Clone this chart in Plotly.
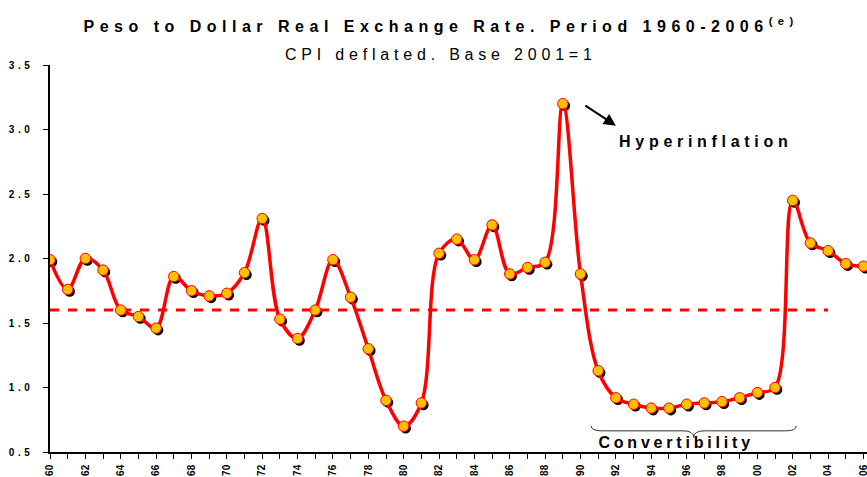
import plotly.graph_objects as go

# ---- data ----
years = list(range(1960, 2007))
rer = [1.99, 1.76, 2.00, 1.91, 1.60, 1.55, 1.46, 1.86, 1.75, 1.71,
       1.73, 1.89, 2.31, 1.53, 1.38, 1.60, 1.99, 1.70, 1.30, 0.90,
       0.70, 0.88, 2.04, 2.15, 1.99, 2.26, 1.88, 1.93, 1.97, 3.20,
       1.88, 1.13, 0.92, 0.87, 0.84, 0.84, 0.87, 0.88, 0.89, 0.92,
       0.96, 1.00, 2.45, 2.12, 2.06, 1.96, 1.94]
avg_years = [1960, 2004]
avg_value = [1.60, 1.60]
tick_years = list(range(1960, 2007))
tick_text = [f"{y % 100:02d}" if y % 2 == 0 else "" for y in tick_years]
y_ticks = [0.5, 1.0, 1.5, 2.0, 2.5, 3.0, 3.5]

title_text = "Peso to Dollar Real Exchange Rate. Period 1960-2006<sup>(e)</sup>"
subtitle_text = "CPI deflated. Base 2001=1"
hyper_label = "Hyperinflation"
conv_label = "Convertibility"
hyper_peak = (1992.0, 3.03)      # arrow head
conv_start, conv_end = 1990.6, 2002.2

FONT = "Liberation Sans, Arial, sans-serif"
X_RANGE = [1960, 2006.2]
Y_RANGE = [0.5, 3.5]
# shadow shift (~2px right, 2px down)
DX = 0.113
DY = 0.0155

fig = go.Figure()

# shadow of markers on base (hidden) axes
fig.add_trace(go.Scatter(
    x=years, y=rer, mode="markers", xaxis="x", yaxis="y",
    marker=dict(size=10.5, color="black"), hoverinfo="skip", showlegend=False))

# average dashed line
fig.add_trace(go.Scatter(
    x=avg_years, y=avg_value, mode="lines", xaxis="x2", yaxis="y2",
    line=dict(color="#FF0000", width=3, dash="dash"), showlegend=False))

# main line with markers
fig.add_trace(go.Scatter(
    x=years, y=rer, mode="lines+markers", xaxis="x2", yaxis="y2",
    line=dict(color="#FF0000", width=3.5, shape="spline", smoothing=1),
    marker=dict(size=10.5, color="#FFC000", line=dict(color="#FF0000", width=1)),
    showlegend=False))

# brace under convertibility period
ym_top, ym_mid, ym_cusp = 0.703, 0.664, 0.612
xm = (conv_start + conv_end) / 2
brace = (f"M {conv_start},{ym_top} Q {conv_start},{ym_mid} {conv_start+0.6},{ym_mid} "
         f"L {xm-0.6},{ym_mid} Q {xm},{ym_mid} {xm},{ym_cusp} "
         f"Q {xm},{ym_mid} {xm+0.6},{ym_mid} L {conv_end-0.6},{ym_mid} "
         f"Q {conv_end},{ym_mid} {conv_end},{ym_top}")

fig.update_layout(
    width=867, height=477,
    margin=dict(l=50, r=0, t=65, b=25),
    paper_bgcolor="white", plot_bgcolor="white",
    font=dict(family=FONT, color="black"),
    xaxis=dict(range=[X_RANGE[0] - DX, X_RANGE[1] - DX], visible=False, fixedrange=True),
    yaxis=dict(range=[Y_RANGE[0] + DY, Y_RANGE[1] + DY], visible=False, fixedrange=True),
    xaxis2=dict(range=X_RANGE, overlaying="x", anchor="y2", side="bottom",
                tickmode="array", tickvals=tick_years, ticktext=tick_text,
                tickangle=-90, ticks="outside", ticklen=5, tickwidth=1, tickcolor="black",
                showline=True, linecolor="black", linewidth=1.5, showgrid=False,
                zeroline=False, automargin=False, ticklabelstandoff=2,
                ticklabeloverflow="allow",
                tickfont=dict(size=10, family=FONT, weight="bold", color="black")),
    yaxis2=dict(range=Y_RANGE, overlaying="y", anchor="x2", side="left",
                tickmode="array", tickvals=y_ticks, tickformat=".1f",
                ticks="outside", ticklen=5, tickwidth=1, tickcolor="black",
                showline=True, linecolor="black", linewidth=1.5, showgrid=False,
                zeroline=False, automargin=False, ticklabelstandoff=8,
                tickfont=dict(size=10, family=FONT, weight="bold", color="black")),
    shapes=[dict(type="path", path=brace, xref="x2", yref="y2",
                 line=dict(color="#333333", width=1))],
    annotations=[
        dict(text=title_text, xref="paper", yref="paper", x=0.479, y=1.103,
             xanchor="center", yanchor="middle", showarrow=False,
             font=dict(size=16, family=FONT, weight="bold", color="black")),
        dict(text=subtitle_text, xref="paper", yref="paper", x=0.479, y=1.026,
             xanchor="center", yanchor="middle", showarrow=False,
             font=dict(size=16, family=FONT, color="black")),
        dict(text=hyper_label, xref="x2", yref="y2", x=1997.1, y=2.91,
             xanchor="center", yanchor="middle", showarrow=False,
             font=dict(size=16, family=FONT, weight="bold", color="black")),
        dict(text="", xref="x2", yref="y2", x=hyper_peak[0], y=hyper_peak[1],
             ax=-32, ay=-21, showarrow=True, arrowhead=2, arrowsize=1.2,
             arrowwidth=2, arrowcolor="black"),
        dict(text=conv_label, xref="x2", yref="y2", x=1995.4, y=0.571,
             xanchor="center", yanchor="middle", showarrow=False,
             font=dict(size=16, family=FONT, weight="bold", color="black")),
    ],
)

post = """
document.documentElement.style.margin = '0';
document.body.style.margin = '0';
document.body.style.padding = '0';
document.body.style.overflow = 'hidden';
var gd = document.getElementById('{plot_id}');
function spacing(){
  document.querySelectorAll('text.annotation-text').forEach(function(t){
    var s = t.textContent || '';
    if (s.indexOf('Peso') === 0) t.style.letterSpacing = '5.5px';
    else if (s.indexOf('CPI') === 0) t.style.letterSpacing = '4.8px';
    else if (s.indexOf('Hyper') === 0) t.style.letterSpacing = '4.7px';
    else if (s.indexOf('Conv') === 0) t.style.letterSpacing = '3.8px';
  });
  document.querySelectorAll('g.y2tick text, g.ytick text').forEach(function(t){
    t.style.letterSpacing = '3.5px';
  });
}
spacing();
gd.on('plotly_afterplot', spacing);
"""

fig.write_html("out.html", post_script=post, config={"displayModeBar": False})
